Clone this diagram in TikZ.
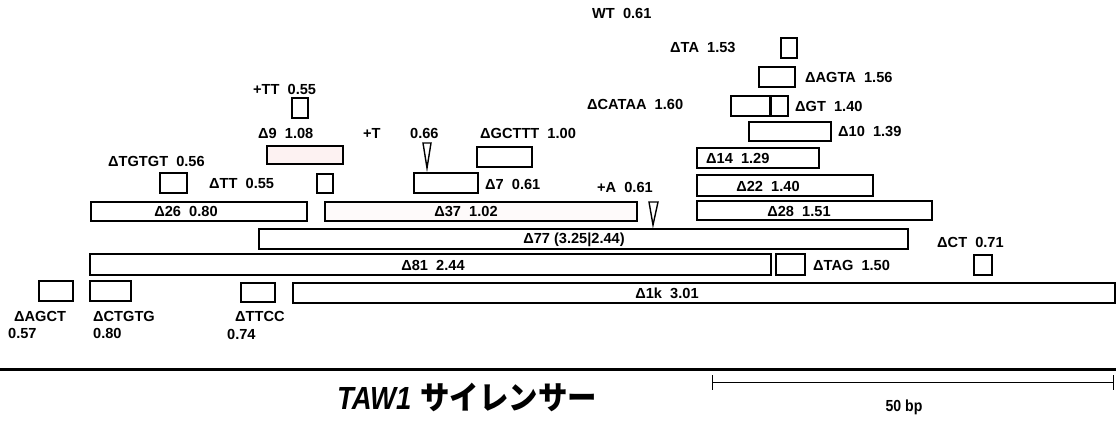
\documentclass[tikz,border=0pt]{standalone}
\usepackage{fontspec}
\setmainfont{Liberation Sans}
\newfontfamily\jp{Noto Sans CJK JP}
\tikzset{
  bx/.style={draw=black, line width=1.5pt},
  lbl/.style={font=\bfseries\fontsize{14.6}{15}\selectfont, inner sep=0pt},
  lw/.style={lbl, anchor=west},
  tri/.style={draw=black, line width=1.4pt, line join=miter}
}
\begin{document}
\begin{tikzpicture}[x=1pt,y=-1pt]
\useasboundingbox (0,0) rectangle (1116,423);
% top-right cluster
\node[lw] (wt) at (592,13) {WT\ \ 0.61};
\node[lw] (ta) at (670,47) {ΔTA\ \ 1.53};
\draw[bx] (781,38) rectangle (797,58);
\draw[bx] (759,67) rectangle (795,87);
\node[lw] (agta) at (805,77) {ΔAGTA\ \ 1.56};
\node[lw] (cataa) at (587,104) {ΔCATAA\ \ 1.60};
\draw[bx] (731,96) rectangle (788,116);
\draw[line width=3pt] (770,96) -- (770,116);
\node[lw] (gt) at (795,106) {ΔGT\ \ 1.40};
\draw[bx] (749,122) rectangle (831,141);
\node[lw] (d10) at (838,131) {Δ10\ \ 1.39};
\draw[bx] (697,148) rectangle (819,168);
\node[lw] (d14) at (706,158) {Δ14\ \ 1.29};
\draw[bx] (697,175) rectangle (873,196);
\node[lbl] (d22) at (768,186) {Δ22\ \ 1.40};
\draw[bx] (697,201) rectangle (932,220);
\node[lbl] (d28) at (799,211) {Δ28\ \ 1.51};
% left/middle cluster
\node[lw] (ptt) at (253,89) {+TT\ \ 0.55};
\draw[bx] (292,98) rectangle (308,118);
\node[lw] (d9) at (258,133) {Δ9\ \ 1.08};
\draw[bx, fill={rgb,255:red,253;green,242;blue,242}] (267,146) rectangle (343,164);
\node[lw] (pt) at (363,133) {+T};
\node[lw] (pt2) at (410,133) {0.66};
\draw[tri] (423,143) -- (431,143) -- (427,168) -- cycle;
\node[lw] (gcttt) at (480,133) {ΔGCTTT\ \ 1.00};
\draw[bx] (477,147) rectangle (532,167);
\node[lw] (tgtgt) at (108,161) {ΔTGTGT\ \ 0.56};
\draw[bx] (160,173) rectangle (187,193);
\node[lw] (dtt) at (209,183) {ΔTT\ \ 0.55};
\draw[bx] (317,174) rectangle (333,193);
\draw[bx] (414,173) rectangle (478,193);
\node[lw] (d7) at (485,184) {Δ7\ \ 0.61};
\node[lw] (pa) at (597,187) {+A\ \ 0.61};
\draw[tri] (649,202) -- (658,202) -- (653,225) -- cycle;
\draw[bx] (91,202) rectangle (307,221);
\node[lbl] (d26) at (186,211) {Δ26\ \ 0.80};
\draw[bx, fill={rgb,255:red,254;green,250;blue,250}] (325,202) rectangle (637,221);
\node[lbl] (d37) at (466,211) {Δ37\ \ 1.02};
\draw[bx] (259,229) rectangle (908,249);
\node[lbl] (d77) at (574,240) {Δ77 (3.25|2.44)};
\node[lw] (ct) at (937,242) {ΔCT\ \ 0.71};
\draw[bx] (90,254) rectangle (771,275);
\node[lbl] (d81) at (433,265) {Δ81\ \ 2.44};
\draw[bx] (776,254) rectangle (805,275);
\node[lw] (tag) at (813,265) {ΔTAG\ \ 1.50};
\draw[bx] (974,255) rectangle (992,275);
\draw[bx] (293,283) rectangle (1115,303);
\node[lbl] (d1k) at (667,293) {Δ1k\ \ 3.01};
% bottom-left small boxes
\draw[bx] (39,281) rectangle (73,301);
\node[lw] (agct) at (14,316) {ΔAGCT};
\node[lw] (agctv) at (8,333) {0.57};
\draw[bx] (90,281) rectangle (131,301);
\node[lw] (ctgtg) at (93,316) {ΔCTGTG};
\node[lw] (ctgtgv) at (93,333) {0.80};
\draw[bx] (241,283) rectangle (275,302);
\node[lw] (ttcc) at (235,316) {ΔTTCC};
\node[lw] (ttccv) at (227,334) {0.74};
% silencer line and scale bar
\draw[line width=3pt] (0,369) -- (1116,369);
\coordinate (sbL) at (712,382);
\coordinate (sbR) at (1113,382);
\draw[line width=0.9pt] (sbL) -- (sbR);
\draw[line width=0.9pt] (712,375) -- (712,390);
\draw[line width=0.9pt] (1113,375) -- (1113,390);
\node[inner sep=0pt] (bp) at (904,407) {\bfseries\fontsize{16}{17}\selectfont\scalebox{0.88}[1]{50 bp}};
\node[inner sep=0pt] (title) at (467,397) {\fontsize{32}{34}\selectfont\scalebox{0.86}[1]{\bfseries\itshape TAW1}\ {\jp\bfseries\scalebox{0.92}[1]{サイレンサー}}};
\end{tikzpicture}
\end{document}
